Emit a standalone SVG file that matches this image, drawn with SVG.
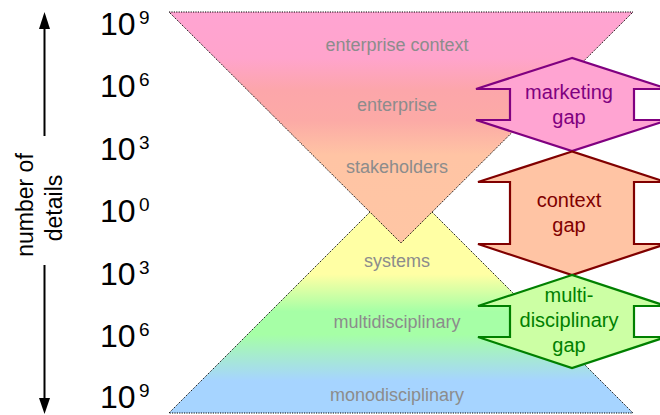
<svg xmlns="http://www.w3.org/2000/svg" width="660" height="415" viewBox="0 0 660 415">
<style>
text{font-family:"Liberation Sans",Arial,Helvetica,sans-serif}
.lvl{font-size:18px;fill:#8c8c8c;text-anchor:middle}
.ax{font-size:32px;fill:#000}
.sup{font-size:19px;fill:#000}
.tri{stroke:#000;stroke-width:1;stroke-dasharray:1.2 1.2}
.gap{stroke-width:2.2;stroke-linejoin:miter}
.gt{font-size:20px;text-anchor:middle}
.axl{stroke:#000;stroke-width:2}
</style>
<defs>
<linearGradient id="gInv" gradientUnits="userSpaceOnUse" x1="0" y1="12" x2="0" y2="243">
<stop offset="0" stop-color="#ffa4d2"/>
<stop offset="0.2" stop-color="#ffa4cc"/>
<stop offset="0.34" stop-color="#fca6aa"/>
<stop offset="0.47" stop-color="#fcaaa6"/>
<stop offset="0.62" stop-color="#ffc4a4"/>
<stop offset="1" stop-color="#ffc6a4"/>
</linearGradient>
<linearGradient id="gUp" gradientUnits="userSpaceOnUse" x1="0" y1="182" x2="0" y2="413">
<stop offset="0" stop-color="#ffffa4"/>
<stop offset="0.4" stop-color="#ffffa4"/>
<stop offset="0.56" stop-color="#a6ffa6"/>
<stop offset="0.66" stop-color="#a6ffa6"/>
<stop offset="0.86" stop-color="#a6d4ff"/>
<stop offset="1" stop-color="#a6d4ff"/>
</linearGradient>
</defs>

<g id="upright-triangle">
<polygon class="tri" points="169,413 401,181 633,413" fill="url(#gUp)"/>
</g>
<g id="inverted-triangle">
<polygon class="tri" points="169,12 633,12 401,243" fill="url(#gInv)"/>
</g>

<g id="level-labels">
<text class="lvl" x="397" y="51">enterprise context</text>
<text class="lvl" x="397" y="111">enterprise</text>
<text class="lvl" x="397" y="173">stakeholders</text>
<text class="lvl" x="397" y="267">systems</text>
<text class="lvl" x="397" y="328">multidisciplinary</text>
<text class="lvl" x="397" y="401">monodisciplinary</text>
</g>

<g id="marketing-gap">
<polygon class="gap" stroke="#800080" fill="#ffa4d2" points="572,58 476,89 510,89 510,120 476,120 572,151 668,120 634,120 634,89 668,89"/>
<text class="gt" fill="#800080" x="569" y="99">marketing</text>
<text class="gt" fill="#800080" x="569" y="124">gap</text>
</g>

<g id="context-gap">
<polygon class="gap" stroke="#800000" fill="#ffc4a4" points="572,151.5 478,182 510,182 510,244 478,244 572,275 666,244 634,244 634,182 666,182"/>
<text class="gt" fill="#800000" x="569" y="207">context</text>
<text class="gt" fill="#800000" x="569" y="232">gap</text>
</g>

<g id="multidisciplinary-gap">
<polygon class="gap" stroke="#008000" fill="#ccffa4" points="572,275 478,306 510,306 510,337 478,337 572,368 666,337 634,337 634,306 666,306"/>
<text class="gt" fill="#008000" x="569" y="302">multi-</text>
<text class="gt" fill="#008000" x="569" y="327">disciplinary</text>
<text class="gt" fill="#008000" x="569" y="352">gap</text>
</g>

<g id="axis-scale">
<text class="ax" x="100" y="35">10</text><text class="sup" x="139" y="24">9</text>
<text class="ax" x="100" y="97">10</text><text class="sup" x="139" y="86">6</text>
<text class="ax" x="100" y="160">10</text><text class="sup" x="139" y="149">3</text>
<text class="ax" x="100" y="222">10</text><text class="sup" x="139" y="211">0</text>
<text class="ax" x="100" y="285">10</text><text class="sup" x="139" y="274">3</text>
<text class="ax" x="100" y="347">10</text><text class="sup" x="139" y="336">6</text>
<text class="ax" x="100" y="408">10</text><text class="sup" x="139" y="397">9</text>
</g>

<g id="axis-title">
<text transform="translate(33,205) rotate(-90)" font-size="23" text-anchor="middle">number of</text>
<text transform="translate(62,208) rotate(-90)" font-size="23" text-anchor="middle">details</text>
</g>

<g id="connectors">
<line class="axl" x1="44.5" y1="26" x2="44.5" y2="136"/>
<polygon points="44.5,12 39,29 50,29" fill="#000"/>
<line class="axl" x1="44.5" y1="265" x2="44.5" y2="400"/>
<polygon points="39,398 50,398 44.5,414" fill="#000"/>
</g>
</svg>
